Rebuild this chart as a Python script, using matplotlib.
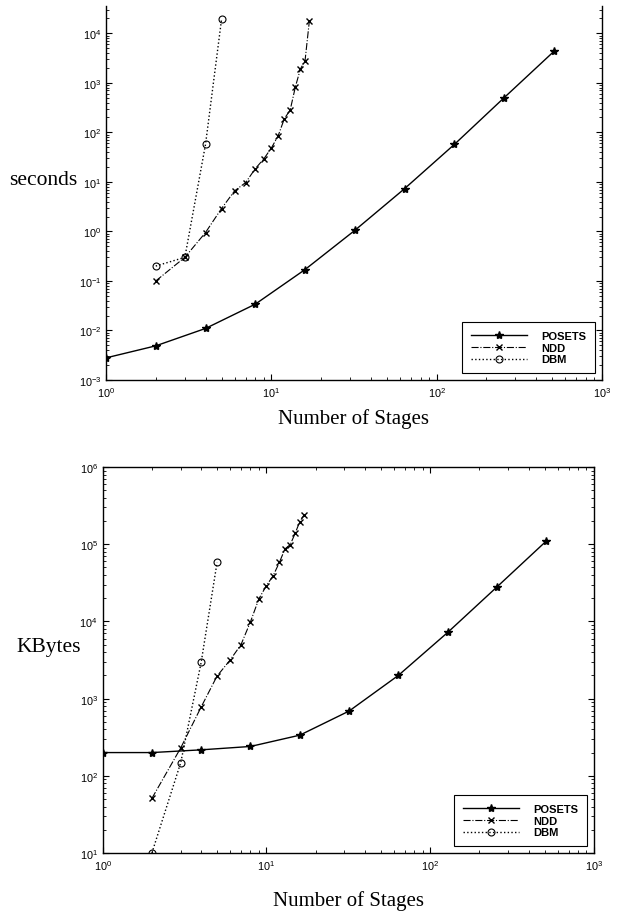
import matplotlib
matplotlib.use('Agg')
import matplotlib.pyplot as plt
import numpy as np

plt.rcParams['font.family'] = ['Liberation Sans', 'DejaVu Sans']
plt.rcParams['mathtext.default'] = 'regular'

# ---- data ----
# time (seconds)
posets_n = [1, 2, 4, 8, 16, 32, 64, 128, 256, 512]
posets_sec = [2.8e-3, 4.9e-3, 1.1e-2, 3.4e-2, 0.17, 1.05, 7.3, 57, 500, 4300]
ndd_n = [2, 3, 4, 5, 6, 7, 8, 9, 10, 11, 12, 13, 14, 15, 16, 17]
ndd_sec = [0.1, 0.3, 0.95, 2.9, 6.6, 9.7, 18.5, 29, 48, 85, 190, 280, 840, 1900, 2800, 18000]
dbm_n = [2, 3, 4, 5]
dbm_sec = [0.2, 0.3, 57, 19000]

# memory (KBytes)
posets_kb = [200, 200, 217, 240, 336, 690, 2000, 7200, 28000, 110000]
ndd_kb = [51, 230, 780, 1960, 3150, 5000, 9900, 19600, 29000, 39000, 58000, 87000, 99000,
          139000, 196000, 240000]
dbm_kb = [10, 148, 2960, 58000]

serif = ['Liberation Serif', 'DejaVu Serif']

fig = plt.figure(figsize=(6.18, 9.12), dpi=100)
ax1 = fig.add_axes([0.1715, 0.5822, 0.8025, 0.4101])
ax2 = fig.add_axes([0.166, 0.0636, 0.795, 0.4232])


def draw(ax, posets, ndd, dbm, xpad):
    ax.plot(posets_n, posets, color='black', linestyle='-', linewidth=1.0,
            marker='*', markersize=6, label='POSETS')
    ax.plot(ndd_n, ndd, color='black', linestyle='-.', linewidth=0.8,
            marker='x', markersize=4.5, markeredgewidth=1.0, label='NDD')
    ax.plot(dbm_n, dbm, color='black', linestyle=':', linewidth=1.0,
            marker='o', markersize=5, markerfacecolor='none', markeredgewidth=0.8, label='DBM')
    ax.set_xscale('log')
    ax.set_yscale('log')
    ax.set_xlim(1, 1000)
    ax.tick_params(which='both', direction='in', top=True, right=True, labelsize=7.8)
    ax.tick_params(which='major', length=4)
    ax.tick_params(which='minor', length=2)
    for s in ax.spines.values():
        s.set_linewidth(1.0)
    ax.set_xlabel('Number of Stages', family=serif, fontsize=15, labelpad=xpad)
    leg = ax.legend(loc='lower right', frameon=True, fancybox=False,
                    edgecolor='black', framealpha=1, handlelength=5.0,
                    handletextpad=1.3, borderpad=0.8, labelspacing=0.15,
                    borderaxespad=0.6, prop={'weight': 'bold', 'size': 8})
    leg.get_frame().set_linewidth(0.8)


draw(ax1, posets_sec, ndd_sec, dbm_sec, 7)
ax1.set_ylim(1e-3, 10 ** 4.55)
ax1.spines['top'].set_visible(False)
ax1.tick_params(which='both', top=False)
ax1.set_yticks([10.0 ** k for k in range(-3, 5)])
ax1.set_ylabel('seconds', family=serif, fontsize=15.5, rotation=0, ha='right', va='center')
ax1.yaxis.set_label_coords(-0.058, 0.535)

draw(ax2, posets_kb, ndd_kb, dbm_kb, 13)
ax2.set_ylim(10, 1e6)
ax2.set_ylabel('KBytes', family=serif, fontsize=15.5, rotation=0, ha='right', va='center')
ax2.yaxis.set_label_coords(-0.044, 0.534)

fig.savefig('out.png', dpi=100)
